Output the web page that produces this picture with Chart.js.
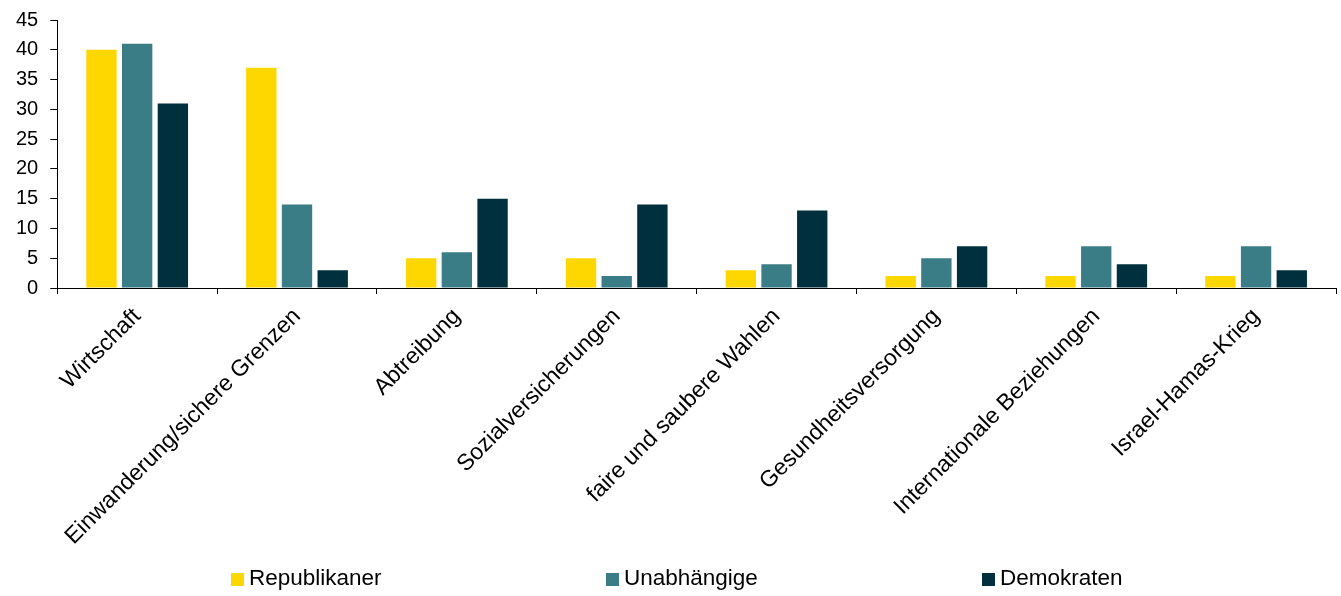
<!DOCTYPE html>
<html>
<head>
<meta charset="utf-8">
<script src="https://cdn.jsdelivr.net/npm/chart.js@4"></script>
<style>
  html, body { margin: 0; padding: 0; background: #fff; }
  #wrap { position: relative; width: 1341px; height: 596px; }
  #legend { position: absolute; left: 0; top: 566px; width: 1341px; height: 24px;
    font: 22.5px "Liberation Sans", Arial, sans-serif; color: #000; }
  #legend .item { position: absolute; top: 0; white-space: nowrap; line-height: 24px; }
  #legend .box { display: inline-block; width: 13px; height: 13px; margin-right: 5px; vertical-align: -1px; }
</style>
</head>
<body>
<div id="wrap">
  <canvas id="issues-chart"></canvas>
  <div id="legend"></div>
</div>
<script>
const categories = ['Wirtschaft', 'Einwanderung/sichere Grenzen', 'Abtreibung', 'Sozialversicherungen',
  'faire und saubere Wahlen', 'Gesundheitsversorgung', 'Internationale Beziehungen', 'Israel-Hamas-Krieg'];
const republikaner = [40, 37, 5, 5, 3, 2, 2, 2];
const unabhaengige = [41, 14, 6, 2, 4, 5, 7, 7];
const demokraten = [31, 3, 15, 14, 13, 7, 4, 3];
const yTicks = [0, 5, 10, 15, 20, 25, 30, 35, 40, 45];

Chart.defaults.font.family = '"Liberation Sans", Arial, sans-serif';
Chart.defaults.color = '#000';

const issues = document.getElementById('issues-chart');

const bar = (label, data, color) => ({
  label: label,
  data: data,
  backgroundColor: color,
  barPercentage: 0.85,
  categoryPercentage: 0.67,
});

const issuesChart = new Chart(issues, {
  type: 'bar',
  data: {
    labels: categories,
    datasets: [
      bar('Republikaner', republikaner, '#FFD700'),
      bar('Unabhängige', unabhaengige, '#3B7D87'),
      bar('Demokraten', demokraten, '#002F3D'),
    ]
  },
  options: {
    responsive: true,
    maintainAspectRatio: false,
    animation: false,
    layout: {
      padding: { top: 0, right: 5, left: 4, bottom: 9 }
    },
    scales: {
      x: {
        afterFit: scale => { scale.height = 299; },
        grid: {
          display: true,
          drawOnChartArea: false,
          color: '#000',
          tickLength: 6,
        },
        border: { color: '#000', width: 1 },
        ticks: {
          maxRotation: 45,
          minRotation: 45,
          padding: 9,
          font: { size: 23 }
        }
      },
      y: {
        min: 0,
        max: 45,
        afterBuildTicks: axis => { axis.ticks = yTicks.map(v => ({ value: v })); },
        grid: {
          drawOnChartArea: false,
          color: '#000',
          tickLength: 7,
        },
        border: { color: '#000', width: 1 },
        ticks: {
          autoSkip: false,
          padding: 12,
          font: { size: 20, lineHeight: 0.8 }
        }
      }
    },
    plugins: {
      legend: { display: false },
      tooltip: { enabled: false }
    }
  }
});

// legend spread out under the plot, one entry per dataset
const legendX = [231, 606, 982];
const legend = document.getElementById('legend');
issuesChart.data.datasets.forEach((ds, i) => {
  const item = document.createElement('span');
  item.className = 'item';
  item.style.left = legendX[i] + 'px';
  const box = document.createElement('span');
  box.className = 'box';
  box.style.background = ds.backgroundColor;
  item.appendChild(box);
  item.appendChild(document.createTextNode(ds.label));
  legend.appendChild(item);
});
</script>
</body>
</html>
